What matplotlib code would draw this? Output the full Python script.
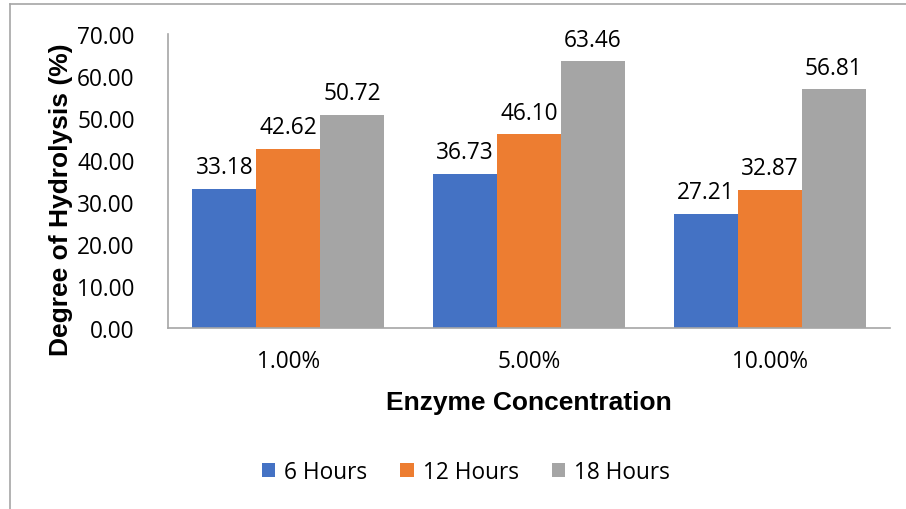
import matplotlib
matplotlib.use("Agg")
import matplotlib.pyplot as plt
import numpy as np
from matplotlib.lines import Line2D

plt.rcParams['font.family'] = ['Open Sans', 'DejaVu Sans']

categories = ["1.00%", "5.00%", "10.00%"]
series_names = ["6 Hours", "12 Hours", "18 Hours"]
h6 = [33.18, 36.73, 27.21]
h12 = [42.62, 46.10, 32.87]
h18 = [50.72, 63.46, 56.81]
colors = ["#4472C4", "#ED7D31", "#A5A5A5"]
yticks = [0, 10, 20, 30, 40, 50, 60, 70]

fig = plt.figure(figsize=(9.06, 5.10), dpi=100)
W, H = 906, 510
ax = fig.add_axes([168 / W, 1 - 329 / H, (890 - 168) / W, (329 - 35) / H])

fs = 16.3
x = np.arange(len(categories))
bw = 0.266
for i, (vals, name, c) in enumerate(zip([h6, h12, h18], series_names, colors)):
    pos = x + (i - 1) * bw
    ax.bar(pos, vals, width=bw, color=c, label=name, zorder=2)
    for p, v in zip(pos, vals):
        ax.annotate(f"{v:.2f}", (p, v), xytext=(0, 7), textcoords="offset points",
                    ha="center", va="bottom", fontsize=fs, color="#000000")

ax.set_xlim(-0.5, 2.5)
ax.set_ylim(0, 70)
ax.set_yticks(yticks)
ax.set_yticklabels([f"{t:.2f}" for t in yticks], fontsize=fs)
ax.set_xticks(x)
ax.set_xticklabels(categories, fontsize=fs)
ax.tick_params(axis='both', length=0)
ax.tick_params(axis='y', pad=24)
ax.tick_params(axis='x', pad=15)
for s in ["top", "right"]:
    ax.spines[s].set_visible(False)
for s in ["left", "bottom"]:
    ax.spines[s].set_color("#A6A6A6")
    ax.spines[s].set_linewidth(1.2)

ax.set_xlabel("Enzyme Concentration", fontsize=19, fontweight="bold",
              family=["Liberation Sans", "DejaVu Sans"])
ax.set_ylabel("Degree of Hydrolysis (%)", fontsize=19, fontweight="bold",
              family=["Liberation Sans", "DejaVu Sans"])
ax.xaxis.set_label_coords(0.5, -(403 - 329) / 294, transform=ax.transAxes)
ax.xaxis.label.set_va("center")
ax.yaxis.set_label_coords(-(168 - 61) / 722, (329 - 200) / 294, transform=ax.transAxes)
ax.yaxis.label.set_va("center")

ax.legend(loc="center", bbox_to_anchor=(466 / W, 1 - 473 / H),
          bbox_transform=fig.transFigure, ncol=3, frameon=False,
          fontsize=fs, handlelength=0.6, handleheight=0.6,
          handletextpad=0.4, columnspacing=1.45)

# outer chart frame (partially cropped)
fig.add_artist(Line2D([10 / W, 10 / W], [0, 1 - 5 / H], transform=fig.transFigure,
                      color="#A6A6A6", lw=1.2))
fig.add_artist(Line2D([10 / W, 1], [1 - 5 / H, 1 - 5 / H], transform=fig.transFigure,
                      color="#A6A6A6", lw=1.2))

fig.savefig("out.png", dpi=100)
